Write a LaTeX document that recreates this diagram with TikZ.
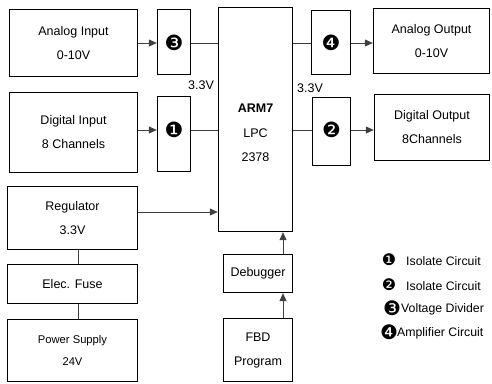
\documentclass[tikz,border=0pt]{standalone}
\usepackage{fontspec}
\setmainfont{Liberation Sans}
\newfontfamily\dv{DejaVu Sans}
\usetikzlibrary{arrows.meta}
\begin{document}
\begin{tikzpicture}[x=1pt,y=-1pt,
  box/.style={draw=black,line width=1.4pt,inner sep=0pt,align=center,
    font=\fontsize{12.5}{24}\selectfont},
  conn/.style={draw=black!75,line width=0.8pt},
  arr/.style={conn,-{Triangle[length=8pt,width=7pt]}},
  lbl/.style={inner sep=0pt,font=\fontsize{12.5}{14}\selectfont},
  num/.style={inner sep=0pt,font=\dv\fontsize{21}{21}\selectfont},
  legn/.style={inner sep=0pt,font=\dv\fontsize{16}{16}\selectfont},
  legnb/.style={inner sep=0pt,font=\dv\fontsize{20}{20}\selectfont},
  leg/.style={anchor=west,inner sep=0pt,font=\fontsize{12.3}{14}\selectfont}]
\useasboundingbox (0,0) rectangle (492,383);
% left column
\node[box,minimum width=128pt,minimum height=67pt] (ain) at (73.5,43) {Analog Input\\0-10V};
\node[box,minimum width=128pt,minimum height=80pt] (din) at (73.5,132.5) {Digital Input\\8 Channels};
\node[box,minimum width=130pt,minimum height=63pt] (reg) at (72.5,218) {Regulator\\3.3V};
\node[box,minimum width=130pt,minimum height=39pt] (fuse) at (72.5,284) {Elec. Fuse};
\node[box,minimum width=130pt,minimum height=62pt,font=\fontsize{11.2}{22}\selectfont] (psu) at (72.5,350.5) {Power Supply\\24V};
% interface blocks
\node[box,minimum width=33pt,minimum height=65pt] (b3) at (174,42) {};
\node[num] at (b3.center |- 0,43) {❸};
\node[box,minimum width=33pt,minimum height=75pt] (b1) at (174,134) {};
\node[num] at (b1.center |- 0,130) {❶};
\node[box,minimum width=39pt,minimum height=64pt] (b4) at (331,42.5) {};
\node[num] at (b4.center |- 0,43) {❹};
\node[box,minimum width=38pt,minimum height=68pt] (b2) at (331.5,131.5) {};
\node[num] at (b2.center |- 0,130) {❷};
% ARM
\node[box,minimum width=74pt,minimum height=224pt] (arm) at (255.5,119.5) {};
\node[box,draw=none,font=\fontsize{12.5}{24.5}\selectfont] (armt) at (255.5,133) {\textbf{ARM7}\\LPC\\2378};
% outputs
\node[box,minimum width=116pt,minimum height=65pt] (aout) at (431.5,41) {Analog Output\\0-10V};
\node[box,minimum width=115pt,minimum height=66pt] (dout) at (432,127.5) {Digital Output\\8Channels};
% debugger
\node[box,minimum width=69pt,minimum height=38pt] (dbg) at (258,273.5) {Debugger};
\node[box,minimum width=69pt,minimum height=63pt] (fbd) at (258,350) {FBD\\Program};
% labels
\node[lbl] (v1) at (201,85) {3.3V};
\node[lbl] (v2) at (310,88) {3.3V};
% connectors
\draw[arr] (ain.east |- 0,43) -- (b3.west |- 0,43);
\draw[arr] (din.east |- 0,130) -- (b1.west |- 0,130);
\draw[conn] (b3.east |- 0,43) -- (arm.west |- 0,43);
\draw[conn] (b1.east |- 0,130) -- (arm.west |- 0,130);
\draw[conn] (arm.east |- 0,43) -- (b4.west |- 0,43);
\draw[conn] (arm.east |- 0,130) -- (b2.west |- 0,130);
\draw[arr] (b4.east |- 0,43) -- (aout.west |- 0,43);
\draw[arr] (b2.east |- 0,130) -- (dout.west |- 0,130);
\draw[arr] (reg.east |- 0,212) -- (arm.west |- 0,212);
\draw[conn] (reg.south -| 78,0) -- (fuse.north -| 78,0);
\draw[conn] (fuse.south -| 78,0) -- (psu.north -| 78,0);
\draw[arr] (dbg.north -| 283,0) -- (arm.south -| 283,0);
\draw[arr] (fbd.north -| 283,0) -- (dbg.south -| 283,0);
% legend
\node[legn] (n1) at (389,260) {❶};
\node[leg] (l1) at (406,261) {Isolate Circuit};
\node[legn] (n2) at (389,285) {❷};
\node[leg] (l2) at (406,286) {Isolate Circuit};
\node[legnb] (n3) at (392,308) {❸};
\node[leg] (l3) at (401,309) {Voltage Divider};
\node[legnb] (n4) at (389,332) {❹};
\node[leg] (l4) at (397,333) {Amplifier Circuit};
\end{tikzpicture}
\end{document}
